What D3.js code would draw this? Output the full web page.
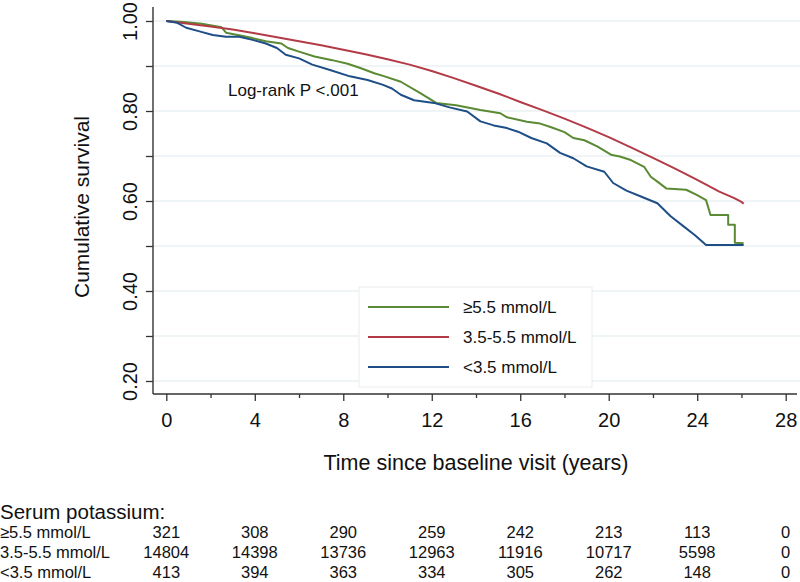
<!DOCTYPE html>
<html>
<head>
<meta charset="utf-8">
<script src="https://cdn.jsdelivr.net/npm/d3@7"></script>
<style>
  html, body { margin: 0; padding: 0; background: #fff; }
  svg { display: block; font-family: "Liberation Sans", Arial, sans-serif; }
</style>
</head>
<body>
<svg id="chart" width="800" height="582"></svg>
<script>
// ---------- Data ----------
const seriesNames = ["≥5.5 mmol/L", "3.5-5.5 mmol/L", "<3.5 mmol/L"];
const seriesColors = ["#5a8a33", "#b33b47", "#1f4e87"];

// Kaplan-Meier survival estimates: [years, survival]
const survHigh = [[0,1.0],[0.8,0.998],[1.6,0.994],[2.5,0.986],[2.7,0.974],[3.4,0.967],[3.9,0.962],[4.5,0.955],[5.2,0.950],[5.5,0.940],[6.0,0.932],[6.7,0.921],[7.5,0.913],[8.2,0.905],[8.8,0.895],[9.4,0.884],[9.8,0.878],[10.6,0.865],[11.5,0.839],[12.2,0.818],[13.1,0.813],[14.2,0.802],[15.1,0.795],[15.4,0.786],[16.3,0.776],[16.9,0.772],[17.4,0.764],[18.0,0.753],[18.4,0.740],[18.9,0.735],[19.5,0.721],[20.1,0.703],[20.5,0.699],[21.0,0.691],[21.6,0.676],[21.9,0.654],[22.2,0.643],[22.6,0.628],[23.5,0.625],[24.0,0.613],[24.4,0.602],[24.6,0.569],[25.4,0.569],[25.4,0.547],[25.7,0.547],[25.7,0.507],[26.1,0.506]];
const survNormal = [[0,1.0],[1,0.994],[2,0.988],[3,0.981],[4,0.973],[5,0.964],[6,0.955],[7,0.946],[8,0.936],[9,0.926],[10,0.915],[11,0.903],[12,0.889],[13,0.873],[14,0.856],[15,0.839],[16,0.820],[17,0.802],[18,0.783],[19,0.763],[20,0.742],[21,0.719],[22,0.696],[23,0.672],[24,0.647],[25,0.621],[25.7,0.606],[26.0,0.598],[26.1,0.594]];
const survLow = [[0,1.0],[0.5,0.996],[0.9,0.985],[1.5,0.977],[2.1,0.969],[2.7,0.965],[3.3,0.965],[3.9,0.958],[4.5,0.950],[5.0,0.940],[5.4,0.925],[6.0,0.917],[6.6,0.903],[7.4,0.891],[8.3,0.877],[9.1,0.869],[9.8,0.858],[10.2,0.850],[10.6,0.836],[11.2,0.824],[12.1,0.818],[12.8,0.808],[13.6,0.799],[14.2,0.777],[14.8,0.768],[15.4,0.762],[15.9,0.754],[16.5,0.740],[17.2,0.728],[17.8,0.707],[18.4,0.695],[19.0,0.677],[19.8,0.665],[20.2,0.640],[20.8,0.623],[21.4,0.611],[22.2,0.595],[22.8,0.566],[23.4,0.543],[23.9,0.524],[24.4,0.502],[26.1,0.502]];

const xTicks = [0, 4, 8, 12, 16, 20, 24, 28];
const xMinorTicks = [2, 6, 10, 14, 18, 22, 26];
const yTicks = [0.2, 0.4, 0.6, 0.8, 1.0];
const yMinorTicks = [0.3, 0.5, 0.7, 0.9];
const yGrid = [0.2, 0.3, 0.4, 0.5, 0.6, 0.7, 0.8, 0.9, 1.0];

const riskTitle = "Serum potassium:";
const riskHigh = [321, 308, 290, 259, 242, 213, 113, 0];
const riskNormal = [14804, 14398, 13736, 12963, 11916, 10717, 5598, 0];
const riskLow = [413, 394, 363, 334, 305, 262, 148, 0];

// ---------- Layout ----------
const svg = d3.select("#chart");
const x = d3.scaleLinear().domain([0, 28]).range([166.3, 785.7]);
const y = d3.scaleLinear().domain([0.2, 1.0]).range([381, 21]);
const axisY0 = 394;   // pixel row of x-axis
const axisX0 = 153;   // pixel column of y-axis
const xMin = x.invert(axisX0), xMax = x.invert(797);
const yTop = y.invert(7);

// gridlines
svg.append("g").selectAll("line").data(yGrid).join("line")
  .attr("x1", axisX0).attr("x2", 800)
  .attr("y1", d => y(d)).attr("y2", d => y(d))
  .attr("stroke", "#eaf0f3").attr("stroke-width", 1.6);

// legend
const lg = svg.append("g");
lg.append("rect").attr("x", 359).attr("y", 287).attr("width", 233).attr("height", 100)
  .attr("fill", "#fff").attr("stroke", "#e8ecee").attr("stroke-width", 1);
seriesNames.forEach((n, i) => {
  const yy = 307 + i * 30;
  lg.append("line").attr("x1", 368).attr("x2", 449).attr("y1", yy).attr("y2", yy)
    .attr("stroke", seriesColors[i]).attr("stroke-width", 2);
  lg.append("text").attr("x", 463).attr("y", yy + 6).attr("font-size", 17).attr("fill", "#111").text(n);
});

// curves
const line = d3.line().x(d => x(d[0])).y(d => y(d[1])).curve(d3.curveLinear);
[survHigh, survNormal, survLow].forEach((s, i) => {
  svg.append("path").datum(s).attr("d", line)
    .attr("fill", "none").attr("stroke", seriesColors[i]).attr("stroke-width", 2)
    .attr("stroke-linejoin", "round");
});

// x axis
const gx = svg.append("g").attr("transform", `translate(0,${axisY0})`);
gx.call(d3.axisBottom(x).tickValues(xTicks).tickSize(7).tickPadding(12).tickFormat(d3.format("d")));
gx.select(".domain").remove();
gx.selectAll(".tick line").attr("stroke", "#333").attr("stroke-width", 1.3);
gx.selectAll(".tick text").attr("font-size", 20).attr("fill", "#111").attr("font-family", "Liberation Sans, Arial, sans-serif");
const gxm = svg.append("g").attr("transform", `translate(0,${axisY0})`);
gxm.call(d3.axisBottom(x).tickValues(xMinorTicks).tickSize(4).tickFormat(""));
gxm.select(".domain").remove();
gxm.selectAll(".tick line").attr("stroke", "#333").attr("stroke-width", 1.3);
svg.append("line").attr("x1", x(xMin)).attr("x2", x(xMax)).attr("y1", axisY0).attr("y2", axisY0)
  .attr("stroke", "#333").attr("stroke-width", 1.4);

// y axis
const gy = svg.append("g").attr("transform", `translate(${axisX0},0)`);
gy.call(d3.axisLeft(y).tickValues(yTicks).tickSize(7).tickPadding(0).tickFormat(d3.format(".2f")));
gy.select(".domain").remove();
gy.selectAll(".tick line").attr("stroke", "#333").attr("stroke-width", 1.3);
gy.selectAll(".tick text").attr("font-size", 20).attr("fill", "#111")
  .attr("font-family", "Liberation Sans, Arial, sans-serif")
  .attr("transform", "translate(-16,0) rotate(-90)")
  .attr("x", 0).attr("dy", 0).attr("text-anchor", "middle");
const gym = svg.append("g").attr("transform", `translate(${axisX0},0)`);
gym.call(d3.axisLeft(y).tickValues(yMinorTicks).tickSize(7).tickFormat(""));
gym.select(".domain").remove();
gym.selectAll(".tick line").attr("stroke", "#333").attr("stroke-width", 1.3);
svg.append("line").attr("x1", axisX0).attr("x2", axisX0).attr("y1", y(yTop)).attr("y2", axisY0)
  .attr("stroke", "#333").attr("stroke-width", 1.4);

// axis titles
svg.append("text").attr("transform", "translate(89,207) rotate(-90)")
  .attr("text-anchor", "middle").attr("font-size", 21).attr("fill", "#111").text("Cumulative survival");
svg.append("text").attr("x", 476).attr("y", 470)
  .attr("text-anchor", "middle").attr("font-size", 21.5).attr("fill", "#111").text("Time since baseline visit (years)");

// annotation
svg.append("text").attr("x", 228).attr("y", 96).attr("font-size", 17).attr("fill", "#111").text("Log-rank P <.001");

// risk table
svg.append("text").attr("x", 0).attr("y", 518.5).attr("font-size", 20.5).attr("fill", "#111").text(riskTitle);
const rows = [riskHigh, riskNormal, riskLow];
const rowBase = [538, 558, 578];
rows.forEach((r, i) => {
  svg.append("text").attr("x", 0).attr("y", rowBase[i]).attr("font-size", 16.5).attr("fill", "#111").text(seriesNames[i]);
  svg.append("g").selectAll("text").data(r).join("text")
    .attr("x", (d, j) => x(xTicks[j])).attr("y", rowBase[i])
    .attr("text-anchor", "middle").attr("font-size", 16.5).attr("fill", "#111")
    .text(d => d);
});
</script>
</body>
</html>
